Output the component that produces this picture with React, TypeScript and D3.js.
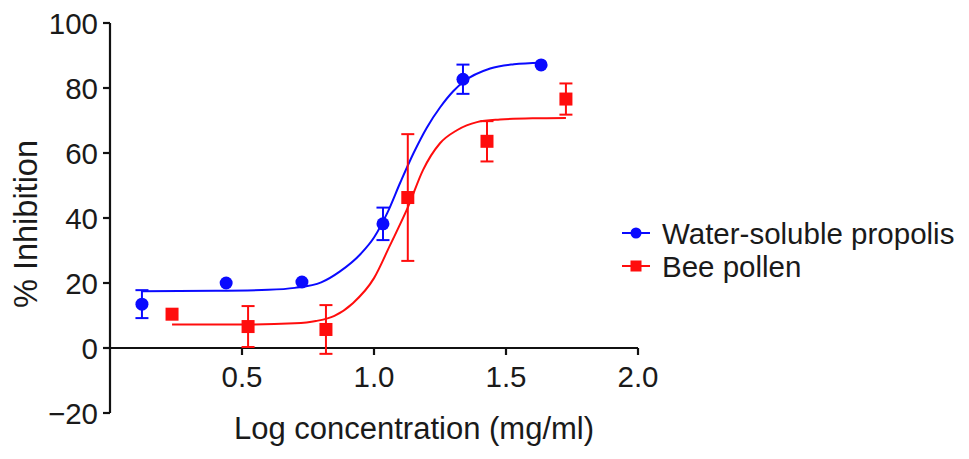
import * as d3 from 'd3'

const propolisX = [0.121, 0.44, 0.727, 1.034, 1.337, 1.633]
const propolisY = [13.5, 20.0, 20.3, 38.2, 82.7, 87.1]
const propolisErr = [4.3, 0, 0, 5.0, 4.5, 0]

const pollenX = [0.235, 0.523, 0.818, 1.128, 1.428, 1.727]
const pollenY = [10.4, 6.6, 5.7, 46.3, 63.6, 76.6]
const pollenErr = [0, 6.3, 7.5, 19.5, 6.2, 4.8]

// fitted curves
const propolisFitX = [0.121, 0.4, 0.6, 0.7, 0.8, 0.87, 0.95, 1.0, 1.05, 1.1, 1.15, 1.2, 1.25, 1.3, 1.34, 1.44, 1.53, 1.633]
const propolisFitY = [17.5, 17.6, 17.9, 18.5, 20.2, 23.5, 29, 34, 41.5, 51, 60, 67.8, 74, 79, 82, 86, 87.3, 87.8]

const pollenFitX = [0.235, 0.5, 0.7, 0.78, 0.85, 0.92, 1.0, 1.06, 1.129, 1.186, 1.25, 1.314, 1.39, 1.477, 1.6, 1.727]
const pollenFitY = [7.2, 7.2, 7.6, 8.3, 9.9, 13.8, 21.5, 31.5, 43.4, 54.8, 63, 67, 69.5, 70.3, 70.7, 70.8]

const xTicks = [0.5, 1.0, 1.5, 2.0]
const yTicks = [-20, 0, 20, 40, 60, 80, 100]

const BLUE = '#0a0aff'
const RED = '#ff0d0d'
const FONT = '"Liberation Sans", Arial, Helvetica, sans-serif'

export default function App() {
  const W = 969
  const H = 459
  const x = d3.scaleLinear().domain([0, 2]).range([110, 638])
  const y = d3.scaleLinear().domain([-20, 100]).range([413, 23])

  const line = d3.line<[number, number]>()
    .x(d => x(d[0])).y(d => y(d[1]))
    .curve(d3.curveMonotoneX)

  const propolisFit = line(propolisFitX.map((v, i) => [v, propolisFitY[i]]))!
  const pollenFit = line(pollenFitX.map((v, i) => [v, pollenFitY[i]]))!

  const errBars = (xs: number[], ys: number[], es: number[], color: string) =>
    xs.map((v, i) => {
      if (!es[i]) return null
      const cx = x(v)
      const top = y(ys[i] + es[i])
      const bot = y(ys[i] - es[i])
      return (
        <g key={i} stroke={color} strokeWidth={2}>
          <line x1={cx} x2={cx} y1={top} y2={bot} />
          <line x1={cx - 6.5} x2={cx + 6.5} y1={top} y2={top} />
          <line x1={cx - 6.5} x2={cx + 6.5} y1={bot} y2={bot} />
        </g>
      )
    })

  return (
    <svg width={W} height={H} style={{ position: 'absolute', left: 0, top: 0 }} fontFamily={FONT}>
      <rect width={W} height={H} fill="#fff" />

      {/* axes */}
      <g stroke="#111" strokeWidth={2.2} fill="none">
        <line x1={x(0)} x2={x(0)} y1={y(100)} y2={y(-20)} />
        {yTicks.map(t => <line key={t} x1={x(0) - 7} x2={x(0)} y1={y(t)} y2={y(t)} />)}
        <line x1={x(0)} x2={x(2)} y1={y(0)} y2={y(0)} />
        {xTicks.map(t => <line key={t} x1={x(t)} x2={x(t)} y1={y(0)} y2={y(0) + 7} />)}
      </g>
      <g fontSize={29.5} fill="#1a1a1a">
        {yTicks.map(t => (
          <text key={t} x={x(0) - 12} y={y(t)} dy="0.36em" textAnchor="end">
            {t < 0 ? `\u2212${-t}` : t}
          </text>
        ))}
        {xTicks.map(t => (
          <text key={t} x={x(t)} y={y(0) + 39} textAnchor="middle">{t.toFixed(1)}</text>
        ))}
      </g>
      <text x={414} y={439} fontSize={31} textAnchor="middle" fill="#1a1a1a">Log concentration (mg/ml)</text>
      <text transform="translate(37,224) rotate(-90)" fontSize={32.5} textAnchor="middle" fill="#1a1a1a">% Inhibition</text>

      {/* fits */}
      <path d={propolisFit} fill="none" stroke={BLUE} strokeWidth={2} />
      <path d={pollenFit} fill="none" stroke={RED} strokeWidth={2} />

      {/* propolis points */}
      {errBars(propolisX, propolisY, propolisErr, BLUE)}
      {propolisX.map((v, i) => (
        <circle key={i} cx={x(v)} cy={y(propolisY[i])} r={6.5} fill={BLUE} />
      ))}

      {/* pollen points */}
      {errBars(pollenX, pollenY, pollenErr, RED)}
      {pollenX.map((v, i) => (
        <rect key={i} x={x(v) - 6.5} y={y(pollenY[i]) - 6.5} width={13} height={13} fill={RED} />
      ))}

      {/* legend */}
      <g>
        <line x1={622} x2={650} y1={233} y2={233} stroke={BLUE} strokeWidth={2} />
        <circle cx={636} cy={233} r={5.5} fill={BLUE} />
        <text x={662} y={233} dy="0.36em" fontSize={29.5} fill="#1a1a1a">Water-soluble propolis</text>
        <line x1={622} x2={650} y1={266} y2={266} stroke={RED} strokeWidth={2} />
        <rect x={630.5} y={260.5} width={11} height={11} fill={RED} />
        <text x={662} y={266} dy="0.36em" fontSize={29.5} fill="#1a1a1a">Bee pollen</text>
      </g>
    </svg>
  )
}
